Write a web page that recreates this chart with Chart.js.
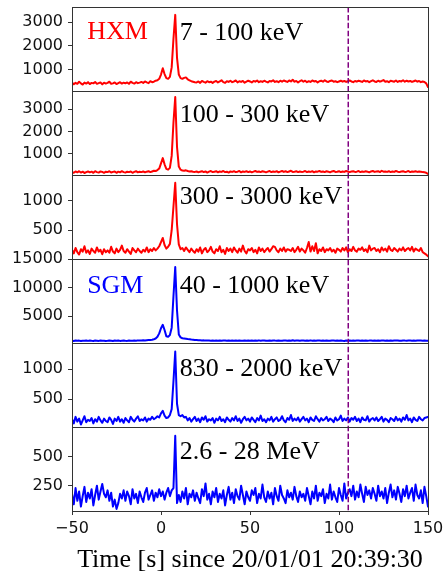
<!DOCTYPE html>
<html>
<head>
<meta charset="utf-8">
<style>
  html, body { margin: 0; padding: 0; background: #fff; }
  #c { display: block; }
</style>
<script src="https://cdn.jsdelivr.net/npm/chart.js@4.4.1/dist/chart.umd.min.js"></script>
</head>
<body>
<canvas id="c" width="448" height="573"></canvas>
<script>
// Time bins: 1 s, starting at -50 s
const tStart = -50;
const tStep = 1;

// HXM 7 - 100 keV
const hxmLow = [
  470, 390, 450, 410, 500, 430, 380, 460, 420, 480,
  400, 450, 430, 490, 410, 440, 470, 390, 460, 420,
  450, 500, 410, 430, 470, 400, 440, 480, 420, 460,
  430, 470, 410, 500, 450, 420, 480, 440, 460, 490,
  450, 510, 470, 440, 520, 480, 500, 540, 560, 620,
  800, 1060, 820, 650, 620, 700, 1100, 2300, 3300, 1500,
  800, 650, 620, 660, 680, 600, 560, 520, 500, 480,
  470, 510, 450, 530, 490, 460, 520, 480, 500, 450,
  500, 530, 470, 510, 560, 480, 450, 520, 490, 540,
  480, 510, 550, 470, 520, 490, 530, 460, 500, 540,
  510, 470, 530, 500, 550, 480, 520, 490, 540, 500,
  470, 530, 510, 560, 490, 520, 480, 540, 500, 550,
  520, 490, 550, 510, 580, 500, 530, 470, 520, 560,
  500, 540, 480, 520, 490, 550, 510, 530, 470, 520,
  540, 500, 560, 510, 490, 530, 550, 500, 520, 480,
  510, 540, 500, 530, 490, 520, 550, 510, 480, 530,
  500, 540, 520, 490, 550, 510, 530, 480, 520, 560,
  510, 490, 540, 500, 530, 570, 500, 520, 480, 540,
  520, 500, 550, 490, 530, 510, 560, 500, 540, 510,
  530, 490, 520, 550, 500, 530, 480, 510, 490, 430,
  280
];

// HXM 100 - 300 keV
const hxmMid = [
  180, 140, 200, 160, 210, 150, 190, 130, 170, 200,
  160, 190, 140, 210, 170, 150, 200, 180, 140, 190,
  170, 210, 150, 180, 200, 140, 190, 160, 210, 170,
  150, 190, 170, 200, 140, 180, 210, 160, 190, 170,
  200, 160, 190, 210, 170, 200, 230, 220, 260, 330,
  560, 800, 520, 320, 280, 360, 900, 2400, 3550, 1300,
  420, 280, 240, 230, 250, 220, 200, 210, 190, 180,
  200, 160, 190, 210, 170, 200, 150, 190, 220, 170,
  190, 210, 160, 200, 180, 220, 170, 190, 150, 200,
  180, 210, 170, 190, 220, 160, 200, 180, 210, 170,
  200, 160, 190, 220, 180, 200, 170, 210, 190, 160,
  190, 220, 170, 200, 180, 210, 160, 190, 220, 180,
  210, 170, 200, 230, 180, 190, 210, 170, 200, 180,
  190, 220, 170, 200, 180, 210, 160, 200, 190, 220,
  180, 200, 170, 210, 190, 160, 200, 220, 180, 190,
  210, 170, 200, 180, 220, 190, 170, 200, 210, 180,
  190, 220, 170, 200, 180, 210, 190, 160, 200, 220,
  180, 200, 210, 170, 230, 190, 200, 180, 210, 170,
  200, 180, 220, 190, 170, 200, 210, 180, 190, 220,
  170, 200, 190, 210, 180, 200, 190, 170, 160, 140,
  90
];

// HXM 300 - 3000 keV
const hxmHigh = [
  170, 110, 200, 130, 90, 180, 140, 230, 120, 160,
  100, 190, 150, 120, 210, 140, 170, 95, 180, 130,
  160, 120, 220, 140, 110, 190, 130, 170, 240, 150,
  120, 180, 140, 100, 200, 160, 130, 190, 150, 120,
  170, 140, 210, 130, 180, 150, 200, 160, 190, 230,
  300, 370, 250, 190, 220, 270, 500, 900, 1300, 600,
  260, 180, 200, 150, 210, 170, 130, 190, 150, 120,
  180, 140, 210, 110, 170, 200, 130, 160, 220, 140,
  110, 180, 150, 230, 130, 170, 100, 200, 150, 190,
  130, 210, 160, 120, 190, 140, 240, 150, 110, 180,
  160, 200, 130, 170, 110, 210, 150, 190, 130, 170,
  200, 140, 180, 230, 220, 160, 130, 190, 150, 210,
  140, 180, 170, 150, 200, 130, 170, 220, 140, 190,
  160, 120, 200, 300, 140, 230, 150, 280, 110, 180,
  150, 210, 130, 180, 160, 200, 140, 170, 120, 190,
  170, 140, 200, 160, 210, 130, 180, 150, 220, 160,
  140, 190, 170, 210, 150, 180, 130, 240, 160, 190,
  200, 150, 180, 130, 210, 160, 190, 140, 230, 170,
  150, 200, 170, 140, 190, 160, 210, 150, 180, 200,
  160, 220, 140, 190, 170, 150, 200, 130, 110, 90,
  60
];

// SGM 40 - 1000 keV
const sgmLow = [
  720, 680, 760, 700, 740, 660, 730, 710, 770, 690,
  740, 700, 680, 750, 720, 690, 760, 710, 730, 680,
  700, 750, 720, 680, 740, 710, 760, 690, 720, 740,
  710, 690, 760, 730, 700, 750, 720, 780, 740, 760,
  780, 750, 800, 830, 860, 900, 980, 1100, 1400, 2000,
  2900, 3500, 2600, 1500, 1400, 1700, 3000, 8500, 13600, 6000,
  1800, 1300, 1150, 1100, 1050, 1000, 980, 920, 900, 860,
  830, 800, 790, 760, 780, 740, 770, 750, 730, 760,
  720, 750, 730, 770, 700, 740, 760, 720, 750, 710,
  740, 720, 760, 700, 750, 730, 710, 770, 720, 740,
  700, 760, 730, 750, 710, 780, 720, 740, 760, 700,
  730, 750, 710, 770, 740, 720, 760, 730, 700, 750,
  740, 710, 760, 730, 800, 720, 750, 770, 710, 740,
  760, 720, 740, 700, 780, 730, 750, 720, 760, 740,
  710, 750, 730, 770, 720, 700, 760, 740, 720, 750,
  730, 760, 710, 680, 740, 720, 770, 730, 750, 710,
  740, 760, 720, 750, 700, 770, 730, 740, 760, 720,
  750, 730, 770, 710, 740, 760, 720, 750, 730, 770,
  720, 750, 740, 760, 710, 730, 770, 740, 720, 750,
  760, 730, 740, 720, 770, 740, 750, 730, 760, 720,
  700
];

// SGM 830 - 2000 keV
const sgmMid = [
  160, 90, 200, 120, 170, 70, 140, 210, 110, 150,
  130, 180, 90, 160, 120, 200, 140, 100, 170, 130,
  110, 190, 150, 80, 170, 130, 200, 120, 160, 100,
  180, 140, 110, 200, 150, 120, 170, 210, 130, 160,
  140, 190, 120, 170, 150, 200, 160, 180, 210, 190,
  260, 300, 220, 180, 190, 230, 330, 800, 1300, 420,
  230, 210, 230, 190, 200, 140, 180, 120, 160, 200,
  130, 170, 110, 190, 150, 210, 120, 160, 140, 180,
  100, 170, 140, 200, 130, 160, 110, 190, 150, 120,
  180, 140, 210, 130, 170, 100, 160, 200, 140, 170,
  120, 190, 150, 110, 180, 140, 220, 130, 160, 110,
  170, 140, 200, 120, 160, 190, 130, 150, 210, 140,
  110, 180, 150, 230, 130, 170, 140, 190, 120, 160,
  200, 140, 170, 110, 190, 150, 130, 210, 160, 120,
  180, 140, 160, 200, 130, 170, 150, 110, 190, 140,
  160, 220, 130, 170, 140, 190, 120, 180, 150, 200,
  130, 170, 110, 190, 150, 140, 210, 120, 160, 180,
  140, 190, 130, 160, 200, 120, 170, 150, 110, 180,
  160, 130, 200, 140, 170, 120, 190, 150, 230, 140,
  170, 110, 190, 150, 130, 200, 160, 140, 180, 190,
  200
];

// SGM 2.6 - 28 MeV
const sgmHigh = [
  180, 90, 230, 120, 200, 70, 160, 240, 110, 190,
  140, 220, 80, 170, 250, 130, 200, 265, 180, 150,
  210, 120, 190, 70, 130, 50, 100, 180, 140, 210,
  120, 200, 160, 90, 220, 140, 180, 100, 200, 150,
  110, 190, 230, 130, 170, 210, 120, 190, 150, 220,
  160, 200, 130, 190, 230, 160, 210, 230, 680, 100,
  170, 110, 200, 140, 230, 90, 180, 150, 210, 120,
  190, 140, 100, 220, 160, 270, 130, 180, 90, 200,
  150, 230, 110, 180, 140, 210, 80, 170, 240, 130,
  190, 100, 220, 160, 130, 250, 170, 90, 200, 150,
  120, 210, 170, 230, 100, 180, 140, 260, 150, 110,
  200, 140, 190, 90, 230, 160, 120, 250, 170, 140,
  100, 210, 150, 190, 130, 240, 160, 110, 200, 150,
  180, 120, 230, 160, 90, 200, 140, 250, 120, 190,
  160, 220, 100, 180, 140, 260, 130, 200, 150, 110,
  230, 170, 120, 270, 140, 190, 220, 160, 250, 130,
  200, 150, 260, 180, 110, 240, 170, 210, 140, 230,
  180, 120, 250, 160, 200, 140, 230, 100, 190, 260,
  150, 210, 130, 240, 180, 110, 220, 160, 250, 140,
  190, 230, 120, 260, 170, 140, 210, 100, 240, 160,
  70
];

const series = [hxmLow, hxmMid, hxmHigh, sgmLow, sgmMid, sgmHigh];
const seriesColors = ['#ff0000', '#ff0000', '#ff0000', '#0000ff', '#0000ff', '#0000ff'];
const bandLabels = ['7 - 100 keV', '100 - 300 keV', '300 - 3000 keV', '40 - 1000 keV', '830 - 2000 keV', '2.6 - 28 MeV'];
const instrumentLabels = ['HXM', '', '', 'SGM', '', ''];

// y ranges and ticks per panel, top to bottom
const panelMin = [110, 40, 15, 320, 29, 32];
const panelMax = [3630, 3820, 1430, 15000, 1443, 756];
const panelTicks = [
  [1000, 2000, 3000],
  [1000, 2000, 3000],
  [500, 1000],
  [5000, 10000, 15000],
  [500, 1000],
  [250, 500]
];
const xTicks = [-50, 0, 50, 100, 150];
const markerTime = 105.2;
const axisTitle = 'Time [s] since 20/01/01 20:39:30';

// label baselines, px below each panel's top edge
const bandLabelOffset = [33, 31, 28.5, 33.5, 32.5, 31.5];
const instrumentLabelOffset = [31.5, 0, 0, 33.5, 0, 0];

const times = hxmLow.map((_, i) => tStart + i * tStep);
const axisIds = series.map((_, i) => 'y' + i);
const tickFont = { family: 'DejaVu Sans', size: 16 };
const frameColor = '#333';

const datasets = series.map((values, i) => ({
  data: values.map((v, k) => ({ x: times[k], y: v })),
  yAxisID: axisIds[i],
  borderColor: seriesColors[i],
  borderWidth: 2,
  borderJoinStyle: 'round',
  borderCapStyle: 'round',
  pointRadius: 0,
  tension: 0,
  fill: false,
}));

const scales = {
  x: {
    type: 'linear',
    min: -50,
    max: 150,
    afterBuildTicks: (s) => { s.ticks = xTicks.map((v) => ({ value: v })); },
    afterFit: (s) => { s.height = 62; s.paddingLeft = 0; s.paddingRight = 0; },
    ticks: {
      color: '#111', font: tickFont, padding: 4, maxRotation: 0, autoSkip: false,
      callback: (v) => (v < 0 ? '\u2212' + Math.abs(v) : String(v)),
    },
    grid: { drawOnChartArea: false, tickLength: 4, color: frameColor },
    border: { display: false },
    title: {
      display: true, text: axisTitle, color: '#000',
      font: { family: 'Liberation Serif', size: 26, lineHeight: 1 },
      padding: { top: 0, bottom: 0 },
    },
  },
};

// stacked boxes are placed from the last one added, so add the bottom panel first
for (let i = series.length - 1; i >= 0; i--) {
  scales[axisIds[i]] = {
    type: 'linear',
    position: 'left',
    stack: 'panels',
    stackWeight: 1,
    min: panelMin[i],
    max: panelMax[i],
    afterBuildTicks: (s) => { s.ticks = panelTicks[i].map((v) => ({ value: v })); },
    afterFit: (s) => { s.width = 72; s.paddingTop = 0; s.paddingBottom = 0; },
    ticks: { color: '#111', font: tickFont, padding: 5, autoSkip: false, callback: (v) => String(v) },
    grid: { drawOnChartArea: false, tickLength: 4, color: frameColor },
    border: { display: false },
  };
}

const panelDecor = {
  id: 'panelDecor',
  afterDatasetsDraw(chart) {
    const { ctx, chartArea, scales } = chart;
    const xs = scales.x;
    ctx.save();

    const mx = xs.getPixelForValue(markerTime);
    ctx.strokeStyle = '#800080';
    ctx.lineWidth = 1.5;
    ctx.setLineDash([5.5, 2.4]);
    ctx.beginPath();
    ctx.moveTo(mx, chartArea.top);
    ctx.lineTo(mx, chartArea.bottom);
    ctx.stroke();
    ctx.setLineDash([]);

    ctx.strokeStyle = frameColor;
    ctx.lineWidth = 1;
    const left = Math.round(chartArea.left) + 0.5;
    const w = Math.round(chartArea.right - chartArea.left);
    axisIds.forEach((id) => {
      const s = scales[id];
      ctx.strokeRect(left, Math.round(s.top) + 0.5, w, Math.round(s.bottom - s.top));
    });

    ctx.font = '26px "Liberation Serif"';
    ctx.textBaseline = 'alphabetic';
    ctx.textAlign = 'left';
    axisIds.forEach((id, i) => {
      const s = scales[id];
      ctx.fillStyle = '#000';
      ctx.fillText(bandLabels[i], xs.getPixelForValue(10.5), s.top + bandLabelOffset[i]);
      if (instrumentLabels[i]) {
        ctx.fillStyle = seriesColors[i];
        ctx.fillText(instrumentLabels[i], xs.getPixelForValue(-41.5), s.top + instrumentLabelOffset[i]);
      }
    });
    ctx.restore();
  },
};

new Chart(document.getElementById('c'), {
  type: 'line',
  data: { datasets },
  options: {
    responsive: false,
    animation: false,
    parsing: true,
    layout: { padding: { left: 0, right: 20, top: 7, bottom: 0 } },
    scales,
    plugins: { legend: { display: false }, tooltip: { enabled: false } },
  },
  plugins: [panelDecor],
});
</script>
</body>
</html>
